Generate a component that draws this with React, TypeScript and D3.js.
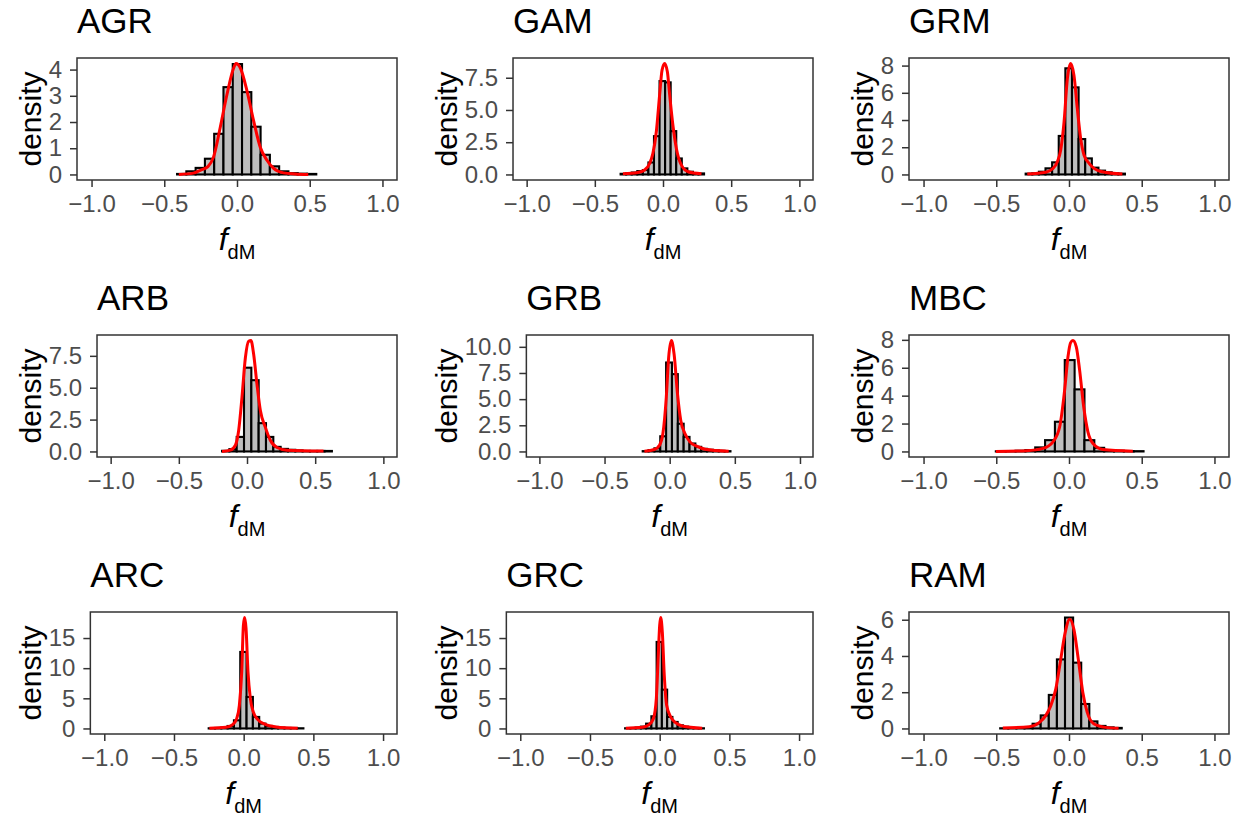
import React, { useEffect, useRef } from "react";
import * as d3 from "d3";

const panelNames = ["AGR", "GAM", "GRM", "ARB", "GRB", "MBC", "ARC", "GRC", "RAM"];

// left edge of the first histogram bin and the bin width, in f_dM units
const binStart = [-0.412, -0.311, -0.298, -0.183, -0.207, -0.503, -0.251, -0.248, -0.473];
const binWidth = [0.0638, 0.0408, 0.0455, 0.0537, 0.0449, 0.0677, 0.0453, 0.0377, 0.0557];

// histogram densities (15 bins each)
const agrDensity = [0.02, 0.12, 0.25, 0.6, 1.55, 3.33, 4.21, 3.14, 1.82, 0.75, 0.31, 0.12, 0.05, 0.03, 0.02];
const gamDensity = [0.05, 0.08, 0.15, 0.26, 0.34, 0.93, 2.97, 7.24, 7.14, 3.36, 1.24, 0.47, 0.21, 0.1, 0.08];
const grmDensity = [0.06, 0.08, 0.2, 0.45, 0.89, 2.83, 7.8, 6.4, 2.6, 1.18, 0.5, 0.28, 0.16, 0.08, 0.06];
const arbDensity = [0.05, 0.18, 1.14, 6.57, 5.59, 2.22, 1.14, 0.36, 0.2, 0.13, 0.08, 0.04, 0.04, 0.04, 0.04];
const grbDensity = [0.03, 0.13, 0.3, 1.45, 8.5, 7.39, 2.65, 1.39, 0.76, 0.44, 0.25, 0.16, 0.1, 0.06, 0.03];
const mbcDensity = [0.01, 0.02, 0.05, 0.1, 0.29, 0.81, 2.13, 6.55, 4.45, 0.81, 0.26, 0.1, 0.05, 0.02, 0.02];
const arcDensity = [0.03, 0.08, 0.14, 0.41, 1.35, 12.69, 5.23, 1.91, 0.8, 0.41, 0.25, 0.14, 0.08, 0.08, 0.03];
const grcDensity = [0.03, 0.08, 0.14, 0.3, 0.8, 2.02, 14.35, 6.44, 1.91, 1.08, 0.52, 0.3, 0.14, 0.08, 0.03];
const ramDensity = [0.01, 0.01, 0.03, 0.06, 0.26, 0.72, 1.85, 3.81, 6.12, 3.63, 1.35, 0.39, 0.14, 0.06, 0.03];

// red density curves
const agrCurveX = [-0.4, -0.3, -0.252, -0.2, -0.161, -0.115, -0.069, -0.023, -0.007, 0.023, 0.069, 0.114, 0.16, 0.206, 0.252, 0.32, 0.4, 0.49];
const agrCurveY = [0, 0.05, 0.16, 0.3, 0.67, 1.8, 3.05, 4.06, 4.23, 4.06, 3.18, 2.05, 1.04, 0.54, 0.23, 0.06, 0.02, 0];
const gamCurveX = [-0.294, -0.184, -0.135, -0.098, -0.074, -0.049, -0.025, -0.007, 0.012, 0.032, 0.049, 0.074, 0.098, 0.135, 0.184, 0.282];
const gamCurveY = [0.05, 0.15, 0.34, 0.85, 1.63, 3.31, 6.15, 8.09, 8.6, 7.96, 6.15, 3.7, 2.02, 0.72, 0.21, 0.05];
const grmCurveX = [-0.287, -0.16, -0.115, -0.08, -0.057, -0.034, -0.011, 0.011, 0.034, 0.057, 0.08, 0.103, 0.138, 0.172, 0.229, 0.367];
const grmCurveY = [0.03, 0.16, 0.4, 0.94, 1.8, 3.87, 7.06, 8.15, 7.3, 4.85, 2.65, 1.43, 0.82, 0.45, 0.2, 0.03];
const arbCurveX = [-0.183, -0.122, -0.085, -0.061, -0.037, -0.012, 0.012, 0.029, 0.049, 0.073, 0.098, 0.134, 0.171, 0.22, 0.293, 0.561];
const arbCurveY = [0, 0.1, 0.49, 1.66, 4.24, 7.35, 8.64, 8.7, 7.6, 5.28, 3.21, 1.91, 0.88, 0.31, 0.1, 0.03];
const grbCurveX = [-0.194, -0.117, -0.078, -0.052, -0.026, -0.008, 0.013, 0.034, 0.06, 0.085, 0.117, 0.155, 0.207, 0.272, 0.453];
const grbCurveY = [0.03, 0.19, 0.6, 1.71, 5.18, 8.97, 10.6, 9.29, 5.5, 2.97, 1.71, 0.92, 0.51, 0.22, 0.03];
const mbcCurveX = [-0.503, -0.293, -0.178, -0.11, -0.064, -0.03, -0.007, 0.011, 0.027, 0.05, 0.073, 0.101, 0.13, 0.165, 0.233, 0.439];
const mbcCurveY = [0, 0.05, 0.22, 0.69, 1.77, 4.4, 6.79, 7.8, 7.95, 7.5, 5.83, 3.2, 1.41, 0.57, 0.14, 0.02];
const arcCurveX = [-0.246, -0.127, -0.079, -0.05, -0.031, -0.014, -0.002, 0.007, 0.017, 0.031, 0.048, 0.069, 0.1, 0.148, 0.232, 0.388];
const arcCurveY = [0.03, 0.19, 0.64, 1.63, 3.84, 9.37, 17.1, 18.4, 16.6, 9.37, 4.95, 2.74, 1.52, 0.75, 0.25, 0.03];
const grcCurveX = [-0.243, -0.124, -0.076, -0.045, -0.024, -0.01, 0, 0.007, 0.019, 0.033, 0.05, 0.079, 0.114, 0.162, 0.305];
const grcCurveY = [0.03, 0.19, 0.64, 1.63, 4.95, 12.14, 17.1, 18.4, 16.0, 8.82, 3.84, 1.91, 0.97, 0.41, 0.03];
const ramCurveX = [-0.455, -0.273, -0.205, -0.159, -0.125, -0.091, -0.057, -0.027, 0.005, 0.034, 0.064, 0.095, 0.125, 0.17, 0.25, 0.341];
const ramCurveY = [0.03, 0.1, 0.32, 0.72, 1.26, 2.17, 3.81, 5.26, 6.03, 5.45, 3.81, 1.99, 0.9, 0.26, 0.06, 0.01];

const yTicks = [
  [0, 1, 2, 3, 4],
  [0, 2.5, 5, 7.5],
  [0, 2, 4, 6, 8],
  [0, 2.5, 5, 7.5],
  [0, 2.5, 5, 7.5, 10],
  [0, 2, 4, 6, 8],
  [0, 5, 10, 15],
  [0, 5, 10, 15],
  [0, 2, 4, 6],
];
const xTicks = [-1, -0.5, 0, 0.5, 1];

const densities = [agrDensity, gamDensity, grmDensity, arbDensity, grbDensity, mbcDensity, arcDensity, grcDensity, ramDensity];
const curvesX = [agrCurveX, gamCurveX, grmCurveX, arbCurveX, grbCurveX, mbcCurveX, arcCurveX, grcCurveX, ramCurveX];
const curvesY = [agrCurveY, gamCurveY, grmCurveY, arbCurveY, grbCurveY, mbcCurveY, arcCurveY, grcCurveY, ramCurveY];

const width = 1245;
const height = 816;
const colX = [0, 416, 832];
const rowY = [58, 335, 612];
const panelH = 122;
const panelRight = 397;
const baseLeft = 77; // panel left for a one-digit axis
const font = "'Liberation Sans', Arial, Helvetica, sans-serif";
const tickSize = 24;
const minus = (s: string) => s.replace("-", "\u2212");

function App() {
  const ref = useRef<SVGSVGElement>(null);

  useEffect(() => {
    const svg = d3.select(ref.current);
    svg.selectAll("*").remove();

    const ctx = document.createElement("canvas").getContext("2d")!;
    ctx.font = `${tickSize}px ${font}`;
    const oneDigit = ctx.measureText("4").width;

    panelNames.forEach((name, i) => {
      const col = i % 3;
      const row = Math.floor(i / 3);
      const ticks = yTicks[i];
      const decimal = ticks.some((t) => !Number.isInteger(t));
      const fmt = (t: number) => (decimal ? t.toFixed(1) : String(t));
      const labelW = d3.max(ticks, (t) => ctx.measureText(fmt(t)).width) as number;

      const left = colX[col] + baseLeft - oneDigit + labelW;
      const right = colX[col] + panelRight;
      const top = rowY[row];
      const bottom = top + panelH;

      const xScale = d3.scaleLinear().domain([-1.1, 1.1]).range([left, right]);
      const yMax = Math.max(d3.max(densities[i]) as number, d3.max(curvesY[i]) as number);
      const yScale = d3.scaleLinear().domain([-0.05 * yMax, 1.05 * yMax]).range([bottom, top]);

      const g = svg.append("g");

      // histogram
      g.selectAll("rect.bar")
        .data(densities[i])
        .join("rect")
        .attr("class", "bar")
        .attr("x", (d, j) => xScale(binStart[i] + j * binWidth[i]))
        .attr("width", xScale(binWidth[i]) - xScale(0))
        .attr("y", (d) => yScale(d))
        .attr("height", (d) => yScale(0) - yScale(d))
        .attr("fill", "#BEBEBE")
        .attr("stroke", "black")
        .attr("stroke-width", 2.1);

      // density curve
      const line = d3
        .line<[number, number]>()
        .x((d) => xScale(d[0]))
        .y((d) => yScale(d[1]))
        .curve(d3.curveMonotoneX);
      g.append("path")
        .datum(d3.zip(curvesX[i], curvesY[i]) as [number, number][])
        .attr("d", line)
        .attr("fill", "none")
        .attr("stroke", "#FF0000")
        .attr("stroke-width", 3);

      // axes
      const xAxis = d3
        .axisBottom(xScale)
        .tickValues(xTicks)
        .tickSize(7)
        .tickPadding(8)
        .tickFormat((d) => minus((d as number).toFixed(1)));
      const gx = g.append("g").attr("transform", `translate(0,${bottom})`).call(xAxis);
      const yAxis = d3
        .axisLeft(yScale)
        .tickValues(ticks)
        .tickSize(7)
        .tickPadding(8)
        .tickFormat((d) => fmt(d as number));
      const gy = g.append("g").attr("transform", `translate(${left},0)`).call(yAxis);

      [gx, gy].forEach((a) => {
        a.select(".domain").remove();
        a.selectAll("line").attr("stroke", "#333333").attr("stroke-width", 1.5);
        a.selectAll("text")
          .attr("fill", "#4D4D4D")
          .style("font-size", `${tickSize}px`)
          .style("font-family", font);
      });

      // panel border
      g.append("rect")
        .attr("x", left)
        .attr("y", top)
        .attr("width", right - left)
        .attr("height", panelH)
        .attr("fill", "none")
        .attr("stroke", "#333333")
        .attr("stroke-width", 1.5);

      // title
      g.append("text")
        .attr("x", left)
        .attr("y", top - 25)
        .attr("fill", "black")
        .style("font-size", "35px")
        .style("font-family", font)
        .text(name);

      // y axis title
      g.append("text")
        .attr("transform", `translate(${colX[col] + 41},${(top + bottom) / 2}) rotate(-90)`)
        .attr("text-anchor", "middle")
        .attr("fill", "black")
        .style("font-size", "30px")
        .style("font-family", font)
        .text("density");

      // x axis title: f with subscript dM
      const xt = g
        .append("text")
        .attr("x", (left + right) / 2)
        .attr("y", bottom + 70)
        .attr("text-anchor", "middle")
        .attr("fill", "black")
        .style("font-family", font);
      xt.append("tspan").style("font-style", "italic").style("font-size", "32px").text("f");
      xt.append("tspan").attr("dy", 9).style("font-size", "20px").text("dM");
    });
  }, []);

  return (
    <svg
      ref={ref}
      width={width}
      height={height}
      style={{ position: "absolute", left: 0, top: 0, background: "white" }}
    ></svg>
  );
}

export default App;
